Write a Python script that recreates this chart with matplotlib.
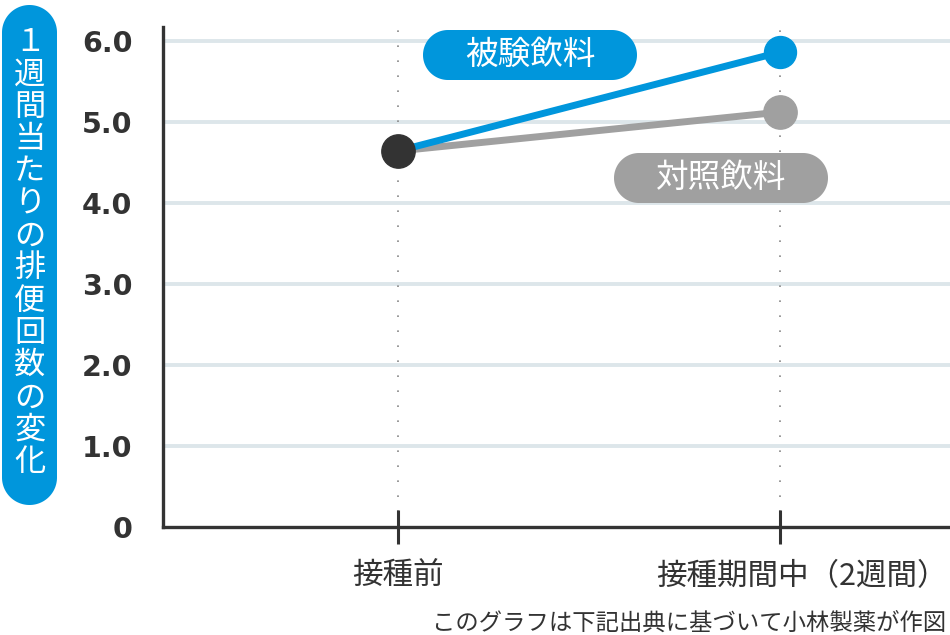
import matplotlib
matplotlib.use('Agg')
import numpy as np
import matplotlib.pyplot as plt
import matplotlib.transforms as mtransforms
from matplotlib.patches import Polygon

plt.rcParams['font.family'] = ['Noto Sans CJK JP', 'DejaVu Sans']

# データ
categories = ['接種前', '接種期間中（2週間）']
test_values = [4.64, 5.86]      # 被験飲料
control_values = [4.64, 5.12]   # 対照飲料
y_ticks = [0, 1, 2, 3, 4, 5, 6]
y_tick_labels = ['0', '1.0', '2.0', '3.0', '4.0', '5.0', '6.0']
ylabel_text = '１週間当たりの排便回数の変化'
note_text = 'このグラフは下記出典に基づいて小林製薬が作図'

blue = '#0096dc'
gray = '#a0a0a0'
dark = '#333333'
grid_color = '#dde6ea'

W, H = 950, 635
fig = plt.figure(figsize=(W / 100, H / 100), dpi=100)
ax = fig.add_axes([163 / W, 1 - 527 / H, 1 - 163 / W, 500 / H])

x = list(range(len(categories)))
ax.set_xlim(-0.615, 1.445)
ax.set_ylim(0, 6.17)

# 横グリッド
for v in y_ticks[1:]:
    ax.axhline(v, color=grid_color, lw=2.8, zorder=0)
# 縦の点線
for xi in x:
    ax.axvline(xi, color='#888888', lw=1.2, ls=(0, (1, 8)), zorder=0)

ax.plot(x, control_values, color=gray, lw=5, solid_capstyle='butt', zorder=2)
ax.plot(x, test_values, color=blue, lw=5, solid_capstyle='butt', zorder=3)
ax.plot(x[1], control_values[1], 'o', color=gray, ms=24, zorder=4)
ax.plot(x[1], test_values[1], 'o', color=blue, ms=23, zorder=4)
ax.plot(x[0], test_values[0], 'o', color=dark, ms=24, zorder=5)

for s in ['top', 'right']:
    ax.spines[s].set_visible(False)
for s in ['left', 'bottom']:
    ax.spines[s].set_linewidth(2.4)
    ax.spines[s].set_color(dark)

ax.set_yticks(y_ticks)
ax.set_yticklabels(y_tick_labels, fontsize=20.5, fontweight='bold', color=dark,
                   family=['DejaVu Sans'])
ax.tick_params(axis='y', length=0, pad=22)
ax.set_xticks(x)
ax.set_xticklabels(categories, fontsize=22, color=dark)
ax.tick_params(axis='x', direction='inout', length=25, width=2.2, color=dark, pad=12)
# 2つ目のラベルは図の右端に揃える
lab2 = ax.get_xticklabels()[1]
lab2.set_ha('right')
lab2.set_transform(lab2.get_transform() +
                   mtransforms.ScaledTranslation(168 / 100, 0, fig.dpi_scale_trans))

# 画素座標のオーバーレイ
ov = fig.add_axes([0, 0, 1, 1], zorder=10)
ov.set_xlim(0, W)
ov.set_ylim(H, 0)
ov.axis('off')

def pill(x0, y0, w, h, color):
    # 角の丸いボックス（半円の両端）
    r = min(w, h) / 2
    t = np.linspace(0, np.pi / 2, 30)
    pts = []
    for cx, cy, a0 in [(x0 + w - r, y0 + h - r, 0), (x0 + r, y0 + h - r, np.pi / 2),
                       (x0 + r, y0 + r, np.pi), (x0 + w - r, y0 + r, 1.5 * np.pi)]:
        pts += list(zip(cx + r * np.cos(t + a0), cy + r * np.sin(t + a0)))
    ov.add_patch(Polygon(pts, closed=True, fc=color, ec='none'))

pill(2, 5, 55, 500, blue)
for i, ch in enumerate(ylabel_text):
    ov.text(30, 42 + i * 32.3, ch, color='white', fontsize=22.5,
            ha='center', va='center')

pill(423, 30, 214, 50, blue)
ov.text(530, 55, '被験飲料', color='white', fontsize=23.5, ha='center', va='center')
pill(614, 153, 214, 50, gray)
ov.text(721, 178, '対照飲料', color='white', fontsize=23.5, ha='center', va='center')

ov.text(946, 623, note_text, color=dark, fontsize=16.8, ha='right', va='center')

fig.savefig('out.png', dpi=100)
